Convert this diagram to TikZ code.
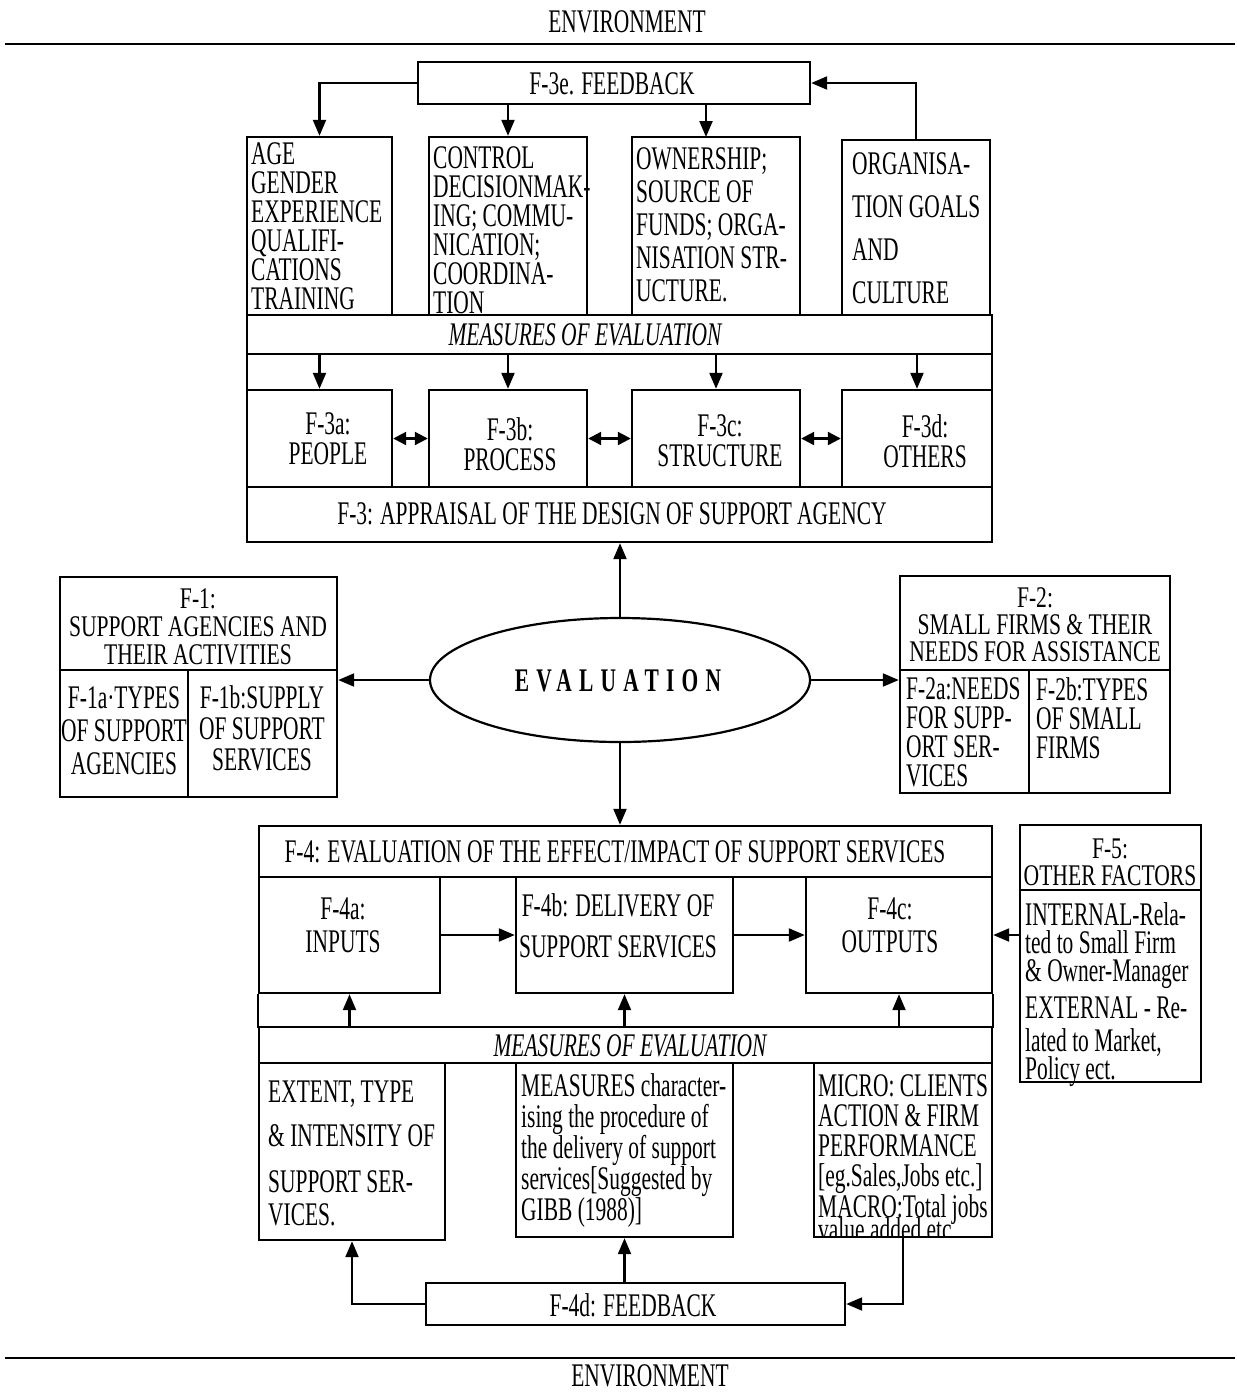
\documentclass[tikz,border=0pt]{standalone}
\usepackage{fontspec}
\setmainfont{Liberation Serif}[FakeStretch=0.65]
\usetikzlibrary{arrows.meta,shapes.geometric,fit}
\newcommand\lsk[1]{\fontsize{33}{#1}\selectfont}
\newcommand\tsk[1]{\fontsize{30}{#1}\selectfont\addfontfeature{FakeStretch=0.72}}

\begin{document}
\begin{tikzpicture}[x=1pt,y=-1pt,
  box/.style={draw, line width=2.4pt, inner sep=0pt, fill=white},
  txt/.style={inner sep=0pt, font=\lsk{36}},
  ltxt/.style={inner sep=0pt, align=left, anchor=north west},
  ctxt/.style={inner sep=0pt, align=center},
  arr/.style={line width=2.2pt, -{Triangle[length=16pt,width=13pt]}},
  dbl/.style={line width=2.2pt, {Triangle[length=13pt,width=13pt]}-{Triangle[length=13pt,width=13pt]}},
  rulel/.style={line width=2pt}]

\useasboundingbox (0,0) rectangle (1237,1393);
\fill[white] (0,0) rectangle (1237,1393);

% environment rules
\node[txt] (envtop) at (627,22) {ENVIRONMENT};
\draw[rulel] (5,44) -- (1235,44);
\draw[rulel] (5,1358) -- (1235,1358);
\node[txt] (envbot) at (650,1376) {ENVIRONMENT};

% ---------- F-3 block ----------
\node[box, fit={(418,62)(810,104)}] (fb3) {};
\node[txt] (fb3t) at (612,84) {F-3e. FEEDBACK};

\node[box, fit={(247,137)(392,315)}] (age) {};
\node[box, fit={(429,137)(587,315)}] (ctl) {};
\node[box, fit={(632,137)(800,315)}] (own) {};
\node[box, fit={(842,140)(990,315)}] (org) {};

\node[ltxt, font=\lsk{29}] (aget) at (251,142) {AGE\\GENDER\\EXPERIENCE\\QUALIFI-\\CATIONS\\TRAINING};
\node[ltxt, font=\lsk{29}] (ctlt) at (433,146) {CONTROL\\DECISIONMAK-\\ING; COMMU-\\NICATION;\\COORDINA-\\TION};
\node[ltxt, font=\lsk{33}] (ownt) at (636,147) {OWNERSHIP;\\SOURCE OF\\FUNDS; ORGA-\\NISATION STR-\\UCTURE.};
\node[ltxt, font=\lsk{43}] (orgt) at (852,152) {ORGANISA-\\TION GOALS\\AND\\CULTURE};

\node[box, fit={(247,315)(992,542)}] (f3) {};
\node[box, fit={(247,315)(992,354)}] (m3) {};
\node[txt, font=\lsk{36}\itshape] (m3t) at (585,335) {MEASURES OF EVALUATION};
\node[box, fit={(247,487)(992,542)}] (f3t) {};
\node[txt] (f3tt) at (612,514) {F-3: APPRAISAL OF THE DESIGN OF SUPPORT AGENCY};

\node[box, fit={(247,390)(392,487)}] (p3a) {};
\node[box, fit={(429,390)(587,487)}] (p3b) {};
\node[box, fit={(632,390)(800,487)}] (p3c) {};
\node[box, fit={(842,390)(992,487)}] (p3d) {};
\node[ctxt, font=\lsk{30}] (p3at) at (328,439) {F-3a:\\PEOPLE};
\node[ctxt, font=\lsk{30}] (p3bt) at (510,444) {F-3b:\\PROCESS};
\node[ctxt, font=\lsk{30}] (p3ct) at (720,441) {F-3c:\\STRUCTURE};
\node[ctxt, font=\lsk{30}] (p3dt) at (925,441) {F-3d:\\OTHERS};

% ---------- centre ----------
\node[draw, ellipse, line width=2.2pt, minimum width=380pt, minimum height=124pt, inner sep=0pt] (ev) at (620,680) {};
\node[txt, font=\lsk{36}\bfseries\addfontfeature{LetterSpace=22}] (evt) at (618,681) {EVALUATION};

% ---------- F-1 ----------
\node[box, fit={(60,577)(337,797)}] (f1) {};
\node[box, fit={(60,670)(188,797)}] (f1a) {};
\node[box, fit={(188,670)(337,797)}] (f1b) {};
\node[ctxt, font=\tsk{28}] (f1t) at (198,627) {F-1:\\SUPPORT AGENCIES AND\\THEIR ACTIVITIES};
\node[ctxt, font=\lsk{33}] (f1at) at (124,731) {F-1a·TYPES\\OF SUPPORT\\AGENCIES};
\node[ctxt, font=\lsk{31}] (f1bt) at (262,728) {F-1b:SUPPLY\\OF SUPPORT\\SERVICES};

% ---------- F-2 ----------
\node[box, fit={(900,576)(1170,793)}] (f2) {};
\node[box, fit={(900,670)(1029,793)}] (f2a) {};
\node[box, fit={(1029,670)(1170,793)}] (f2b) {};
\node[ctxt, font=\tsk{27}] (f2t) at (1035,625) {F-2:\\SMALL FIRMS \& THEIR\\NEEDS FOR ASSISTANCE};
\node[ltxt, font=\lsk{29}] (f2at) at (906,677) {F-2a:NEEDS\\FOR SUPP-\\ORT SER-\\VICES};
\node[ltxt, font=\lsk{29}] (f2bt) at (1036,677) {F-2b:TYPES\\OF SMALL\\FIRMS};

% ---------- F-4 block ----------
\node[box, fit={(259,826)(992,877)}] (f4t) {};
\node[txt] (f4tt) at (615,852) {F-4: EVALUATION OF THE EFFECT/IMPACT OF SUPPORT SERVICES};
\node[box, fit={(259,877)(440,993)}] (p4a) {};
\node[box, fit={(516,877)(733,993)}] (p4b) {};
\node[box, fit={(806,877)(992,993)}] (p4c) {};
\node[ctxt, font=\lsk{33}] (p4at) at (343,925) {F-4a:\\INPUTS};
\node[ctxt, font=\lsk{41}] (p4bt) at (618,926) {F-4b: DELIVERY OF\\SUPPORT SERVICES};
\node[ctxt, font=\lsk{33}] (p4ct) at (890,925) {F-4c:\\OUTPUTS};
\draw[line width=2.4pt] (p4a.south west) -- ++(0,34);
\draw[line width=2.4pt] (p4c.south east) -- ++(0,34);
\node[box, fit={(259,1027)(992,1063)}] (m4) {};
\node[txt, font=\lsk{36}\itshape] (m4t) at (630,1046) {MEASURES OF EVALUATION};

\node[box, fit={(259,1063)(445,1240)}] (b1) {};
\node[box, fit={(516,1063)(733,1237)}] (b2) {};
\node[box, fit={(814,1063)(992,1237)}] (b3) {};
\node[ltxt, font=\lsk{33}] (b1t) at (268,1081) {EXTENT, TYPE\\[11pt]\& INTENSITY OF\\[13pt]SUPPORT SER-\\VICES.};
\node[ltxt, font=\lsk{31}] (b2t) at (521,1073) {MEASURES character-\\ising the procedure of\\the delivery of support\\services[Suggested by\\GIBB (1988)]};
\begin{scope}
  \clip (814,1063) rectangle (992,1237);
  \node[ltxt, font=\lsk{30}] (b3t) at (818,1074) {MICRO: CLIENTS\\ACTION \& FIRM\\PERFORMANCE\\{[}eg.Sales,Jobs etc.{]}\\MACRO:Total jobs\\[-7pt]value added etc.};
\end{scope}

\node[box, fit={(426,1283)(845,1325)}] (fb4) {};
\node[txt] (fb4t) at (633,1305) {F-4d: FEEDBACK};

% ---------- F-5 ----------
\node[box, fit={(1020,825)(1201,1082)}] (f5) {};
\node[box, fit={(1020,825)(1201,890)}] (f5h) {};
\node[ctxt, font=\tsk{27}] (f5t) at (1110,862) {F-5:\\OTHER FACTORS};
\node[ltxt, font=\lsk{28}] (f5b) at (1025,902) {INTERNAL-Rela-\\ted to Small Firm\\\& Owner-Manager\\[7pt]EXTERNAL - Re-\\[5pt]lated to Market,\\Policy ect.};

% ---------- connectors ----------
\coordinate (ownin) at (706,137);
\draw[arr] (fb3.west) -| (age.north);
\draw[arr] (fb3.south -| ctl.north) -- (ctl.north);
\draw[arr] (fb3.south -| ownin) -- (ownin);
\draw[arr] (org.north) |- (fb3.east);

\draw[arr] (m3.south -| p3a.north) -- (p3a.north);
\draw[arr] (m3.south -| p3b.north) -- (p3b.north);
\draw[arr] (m3.south -| p3c.north) -- (p3c.north);
\draw[arr] (m3.south -| p3d.north) -- (p3d.north);
\draw[dbl] (p3a.east) -- (p3b.west);
\draw[dbl] (p3b.east) -- (p3c.west);
\draw[dbl] (p3c.east) -- (p3d.west);

\draw[arr] (ev.north) -- (ev.north |- f3.south);
\draw[arr] (ev.south) -- (ev.south |- f4t.north);
\draw[arr] (ev.west) -- (ev.west -| f1.east);
\draw[arr] (ev.east) -- (ev.east -| f2.west);

\draw[arr] (p4a.east) -- (p4b.west);
\draw[arr] (p4b.east) -- (p4c.west);
\draw[arr] (p4c.east -| f5.west) -- (p4c.east);

\draw[arr] (m4.north -| p4a.south) -- (p4a.south);
\draw[arr] (m4.north -| p4b.south) -- (p4b.south);
\draw[arr] (m4.north -| p4c.south) -- (p4c.south);

\draw[arr] (fb4.west) -| (b1.south);
\draw[arr] (fb4.north -| b2.south) -- (b2.south);
\draw[arr] (b3.south) |- (fb4.east);
\end{tikzpicture}
\end{document}
